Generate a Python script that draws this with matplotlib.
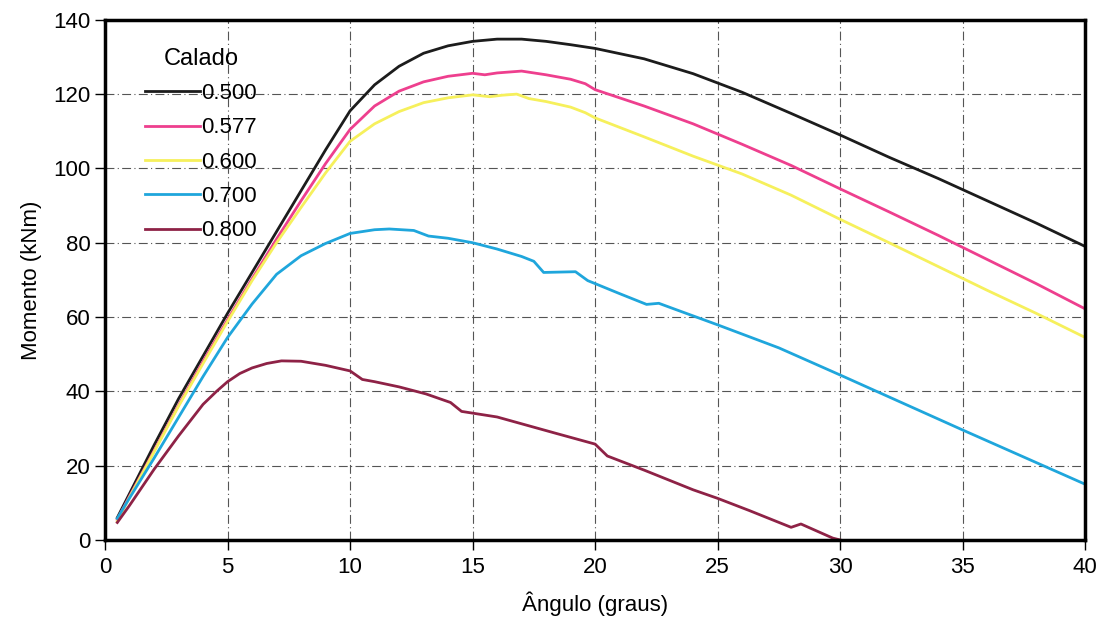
import matplotlib
matplotlib.use("Agg")
import matplotlib.pyplot as plt

plt.rcParams["font.family"] = ["Liberation Sans", "DejaVu Sans"]

# Calado 0.500
x_500 = [0.5, 1, 1.5, 2, 3, 4, 5, 6, 7, 8, 9, 10, 11, 12, 13, 14, 15, 16, 17, 18, 19, 20,
         22, 24, 26, 28, 30, 32, 34, 36, 38, 40]
m_500 = [6, 12.5, 19, 25.5, 38, 49.5, 61, 72, 83, 94, 105, 115.5, 122.5, 127.5, 131, 133,
         134.2, 134.8, 134.8, 134.2, 133.3, 132.3, 129.5, 125.5, 120.5, 114.8, 109, 103,
         97.3, 91.3, 85.3, 79]

# Calado 0.577
x_577 = [0.5, 1, 2, 3, 4, 5, 6, 7, 8, 9, 10, 11, 12, 13, 14, 15, 15.5, 16, 17, 18, 19,
         19.6, 20, 22, 24, 26, 28, 30, 32, 34, 36, 38, 40]
m_577 = [5.5, 11.8, 24, 36.3, 48, 59.3, 70.3, 81, 91.3, 101.3, 110.5, 116.8, 120.8, 123.3,
         124.8, 125.6, 125.2, 125.7, 126.2, 125.2, 124, 122.8, 121.2, 116.8, 112, 106.5,
         100.8, 94.5, 88.3, 82, 75.5, 69, 62.2]

# Calado 0.600
x_600 = [0.5, 1, 2, 3, 4, 5, 6, 7, 8, 9, 10, 11, 12, 13, 14, 15, 15.7, 16.2, 16.8, 17.3,
         18, 19, 19.6, 20, 22, 24, 26, 28, 30, 32, 34, 36, 38, 40]
m_600 = [5, 11.5, 23.7, 36, 47.5, 58.8, 69.8, 80, 89.5, 98.8, 107.3, 112, 115.3, 117.7, 119,
         119.8, 119.3, 119.7, 120, 118.8, 118, 116.5, 115, 113.6, 108.5, 103.3, 98.5,
         92.8, 86.3, 80, 73.6, 67.2, 61, 54.5]

# Calado 0.700
x_700 = [0.5, 1, 2, 3, 4, 5, 6, 7, 8, 9, 10, 11, 11.6, 12.6, 13.2, 14, 15, 16, 17, 17.5,
         17.9, 19.2, 19.7, 20, 21, 22.1, 22.6, 23.3, 25, 27.5, 30, 32.5, 35, 37.5, 40]
m_700 = [5.8, 11.3, 22, 33, 44, 54.5, 63.5, 71.5, 76.5, 79.8, 82.5, 83.5, 83.7, 83.3, 81.8,
         81.2, 80, 78.3, 76.3, 75, 72, 72.2, 69.8, 69, 66.3, 63.4, 63.7, 62, 57.9, 51.7,
         44.4, 37, 29.6, 22.3, 15]

# Calado 0.800
x_800 = [0.5, 1, 2, 3, 4, 4.55, 5, 5.5, 6, 6.6, 7.2, 8, 9, 10, 10.5, 11, 12, 13.1, 14.1,
         14.55, 16, 18.4, 20, 20.5, 22, 24, 25, 26.3, 28, 28.4, 29.7, 30]
m_800 = [4.7, 9.3, 19, 28, 36.5, 40, 42.6, 44.8, 46.3, 47.5, 48.2, 48.1, 47, 45.5, 43.2,
         42.6, 41.2, 39.3, 37, 34.6, 33.1, 28.7, 25.8, 22.6, 18.8, 13.5, 11.2, 7.9, 3.4,
         4.3, 0.5, 0]

series = [
    ("0.500", x_500, m_500, "#1c1c1c"),
    ("0.577", x_577, m_577, "#ee3f8e"),
    ("0.600", x_600, m_600, "#f6f05c"),
    ("0.700", x_700, m_700, "#1fa6dc"),
    ("0.800", x_800, m_800, "#8e2246"),
]

fig = plt.figure(figsize=(11, 6.39), dpi=100)
ax = fig.add_axes([0.0955, 0.155, 0.891, 0.814])

for nome, xs, ys, cor in series:
    ax.plot(xs, ys, color=cor, linewidth=2, label=nome)

ax.set_xlim(0, 40)
ax.set_ylim(0, 140)
ax.set_xticks(range(0, 41, 5))
ax.set_yticks(range(0, 141, 20))
ax.tick_params(labelsize=16, direction="out", length=7, width=1)
ax.tick_params(axis="x", pad=5)
ax.grid(True, color="#555555", linewidth=0.8, linestyle=(0, (8, 3, 1, 3)))
for s in ax.spines.values():
    s.set_linewidth(2.5)
    s.set_color("black")

ax.set_xlabel("Ângulo (graus)", fontsize=16, labelpad=10)
ax.set_ylabel("Momento (kNm)", fontsize=16, labelpad=8)

leg = ax.legend(title="Calado", loc="upper left", bbox_to_anchor=(0.02, 0.985),
                frameon=False, fontsize=16, title_fontsize=17, handlelength=2.5,
                handletextpad=0.05, labelspacing=0.6)

fig.savefig("out.png", dpi=100)
